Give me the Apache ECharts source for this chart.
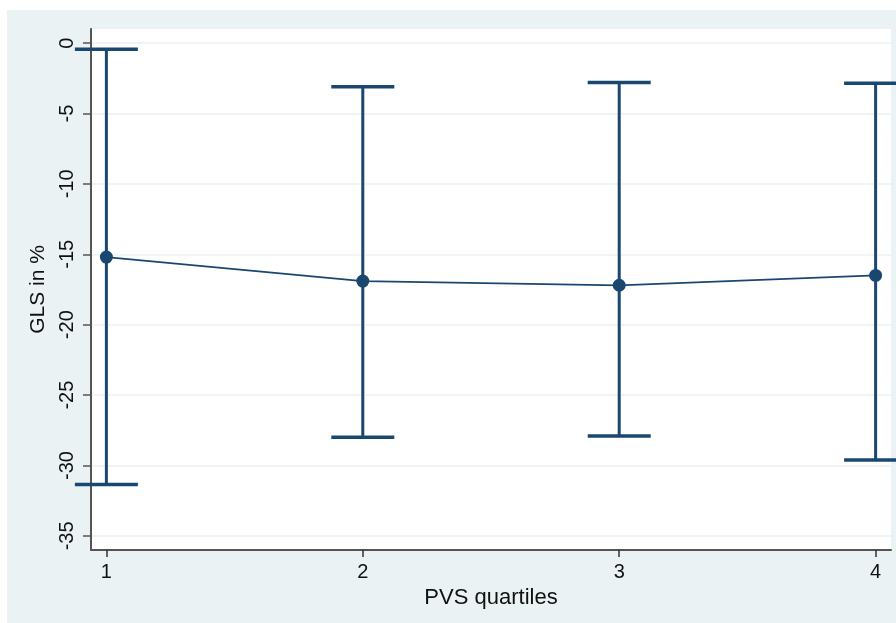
<!DOCTYPE html>
<html><head><meta charset="utf-8">
<script src="https://cdn.jsdelivr.net/npm/echarts@6/dist/echarts.min.js"></script>
<style>html,body{margin:0;padding:0;background:#fff}#c{width:896px;height:623px}</style>
</head><body><div id="c"></div>
<script>
var quartiles = [1, 2, 3, 4];
var meanGLS = [-15.2, -16.9, -17.2, -16.5];
var lowerCI = [-31.35, -28.0, -27.9, -29.6];
var upperCI = [-0.43, -3.1, -2.8, -2.85];
var yTicks = [0, -5, -10, -15, -20, -25, -30, -35];
var xTicks = [1, 2, 3, 4];

var navy = '#1a476f';
var font = '"Liberation Sans", Arial, Helvetica, sans-serif';
var chart = echarts.init(document.getElementById('c'), null, {renderer: 'canvas'});

var lineData = quartiles.map(function (q, i) { return [q, meanGLS[i]]; });
var ciData = quartiles.map(function (q, i) { return [q, lowerCI[i], upperCI[i]]; });

chart.setOption({
  animation: false,
  backgroundColor: '#ffffff',
  graphic: [{
    type: 'rect', z: -10, silent: true,
    shape: {x: 7, y: 10, width: 889, height: 613},
    style: {fill: '#eaf2f3'}
  }],
  grid: {left: 91, top: 29, right: 5, bottom: 73, show: true, backgroundColor: '#ffffff', borderWidth: 0},
  xAxis: {
    type: 'value', min: 0.94, max: 4.06,
    name: 'PVS quartiles', nameLocation: 'middle', nameGap: 36,
    nameTextStyle: {fontFamily: font, fontSize: 22, color: '#111'},
    axisLine: {show: true, onZero: false, lineStyle: {color: '#555', width: 2}},
    axisTick: {show: true, length: 7, customValues: xTicks, lineStyle: {color: '#333', width: 1.5}},
    axisLabel: {customValues: xTicks, margin: 12, fontFamily: font, fontSize: 20, color: '#111'},
    splitLine: {show: false}
  },
  yAxis: {
    type: 'value', min: -36, max: 1,
    name: 'GLS in %', nameLocation: 'middle', nameGap: 40, nameRotate: 90,
    nameTextStyle: {fontFamily: font, fontSize: 21, color: '#111'},
    axisLine: {show: true, onZero: false, lineStyle: {color: '#555', width: 2}},
    axisTick: {show: true, length: 8, customValues: yTicks, lineStyle: {color: '#555', width: 1.5}},
    axisLabel: {customValues: yTicks, rotate: 90, margin: 14, fontFamily: font, fontSize: 20, color: '#111'},
    splitLine: {show: true, lineStyle: {color: '#eaf2f3', width: 1.5}}
  },
  series: [
    {
      type: 'custom',
      clip: false,
      z: 3,
      data: ciData,
      renderItem: function (params, api) {
        var x = api.value(0);
        var lo = api.coord([x, api.value(1)]);
        var hi = api.coord([x, api.value(2)]);
        var hw = 31.5;
        var st = {stroke: navy, lineWidth: 3};
        return {
          type: 'group',
          children: [
            {type: 'line', shape: {x1: hi[0], y1: hi[1], x2: lo[0], y2: lo[1]}, style: st},
            {type: 'line', shape: {x1: hi[0] - hw, y1: hi[1], x2: hi[0] + hw, y2: hi[1]}, style: {stroke: navy, lineWidth: 3.5}},
            {type: 'line', shape: {x1: lo[0] - hw, y1: lo[1], x2: lo[0] + hw, y2: lo[1]}, style: {stroke: navy, lineWidth: 3.5}}
          ]
        };
      }
    },
    {
      type: 'line',
      data: lineData,
      z: 4,
      symbol: 'circle',
      symbolSize: 13,
      lineStyle: {color: navy, width: 1.8},
      itemStyle: {color: navy},
      clip: false
    }
  ]
});
</script></body></html>
